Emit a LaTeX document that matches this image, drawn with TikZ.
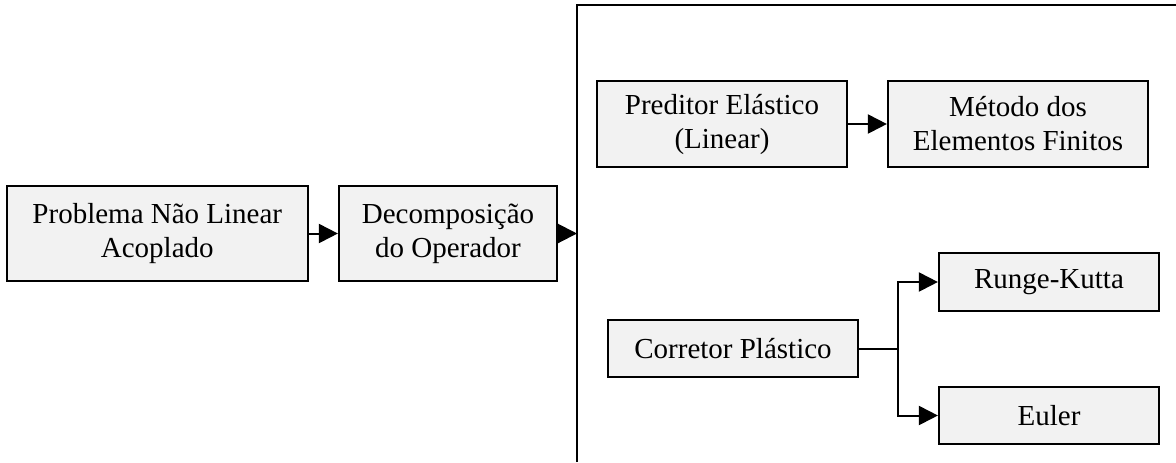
\documentclass[tikz,border=0pt]{standalone}
\usepackage{fontspec}
\setmainfont{Liberation Serif}
\usetikzlibrary{arrows.meta}
\definecolor{boxfill}{HTML}{F2F2F2}
\begin{document}
\begin{tikzpicture}[x=0.5pt,y=-0.5pt,
  blk/.style={draw=black,line width=1.1pt,fill=boxfill,inner sep=0pt,align=center,
    font=\fontsize{14.5}{17}\selectfont},
  conn/.style={line width=1pt},
  arr/.style={conn,-{Triangle[length=9.5pt,width=9.5pt]}}]
\useasboundingbox (0,0) rectangle (1176,462);
% nodes
\node[blk,minimum width=150.5pt,minimum height=47.5pt] (prob) at (157.3,233.5) {Problema Não Linear\\Acoplado};
\node[blk,minimum width=109pt,minimum height=47.5pt] (dec) at (448,233.5) {Decomposição\\do Operador};
\node[blk,minimum width=125pt,minimum height=43pt] (pred) at (722,124) {Preditor Elástico\\(Linear)};
\node[blk,minimum width=130pt,minimum height=43pt] (mef) at (1018,124) {Método dos\\Elementos Finitos};
\node[blk,minimum width=125pt,minimum height=28.5pt] (corr) at (733,348.5) {Corretor Plástico};
\node[blk,minimum width=110pt,minimum height=29pt] (rk) at (1049,282) {Runge-Kutta};
\node[blk,minimum width=110pt,minimum height=28.5pt] (eul) at (1049,415.5) {Euler};
% frame
\coordinate (fbot) at (577,462);
\coordinate (ftop) at (577,4.7);
\coordinate (fright) at (1176,4.7);
\coordinate (fin) at (577,233.5);
\draw[line width=1.1pt] (fbot) -- (ftop) -- (fright);
% connectors
\draw[arr] (prob.east) -- (dec.west);
\draw[arr] (dec.east) -- (fin);
\draw[arr] (pred.east) -- (mef.west);
\coordinate (br) at (898,348.5);
\draw[conn] (corr.east) -- (br);
\draw[arr] (br) |- (rk.west);
\draw[arr] (br) |- (eul.west);
\end{tikzpicture}
\end{document}
